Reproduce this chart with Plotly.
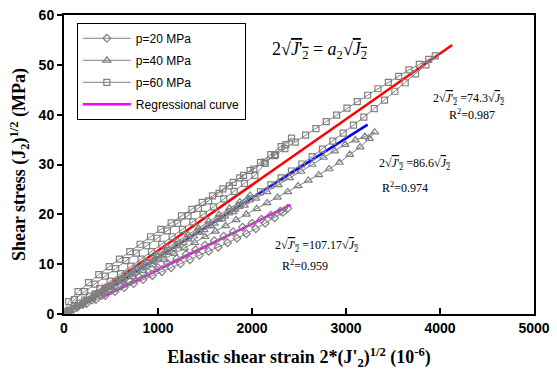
import plotly.graph_objects as go

# ---------------- data ----------------
# p = 20 MPa : loading branch then unloading branch
p20_load_strain = [0, 100, 200, 300, 400, 500, 600, 700, 800, 900, 1000, 1100, 1200, 1300, 1400,
                   1500, 1600, 1700, 1800, 1900, 2000, 2100, 2200, 2300, 2380]
p20_load_stress = [0, 1.0, 1.9, 2.8, 3.7, 4.7, 5.6, 6.5, 7.4, 8.4, 9.3, 10.2, 11.1, 12.0, 12.9,
                   13.8, 14.7, 15.6, 16.5, 17.4, 18.2, 19.0, 19.8, 20.6, 21.2]
p20_unload_strain = [2330, 2240, 2140, 2040, 1940, 1840, 1740, 1640, 1540, 1440, 1340, 1240, 1140,
                     1040, 940, 840, 740, 640, 540, 440, 340, 240, 140, 50]
p20_unload_stress = [20.4, 19.3, 18.2, 17.1, 16.1, 15.2, 14.3, 13.4, 12.6, 11.8, 10.9, 10.1, 9.3,
                     8.5, 7.7, 6.9, 6.1, 5.3, 4.5, 3.7, 2.9, 2.1, 1.3, 0.5]

# p = 40 MPa : outer cycle and inner cycle
p40_load_strain = [0, 120, 240, 360, 480, 600, 720, 840, 960, 1080, 1200, 1320, 1440, 1560, 1680,
                   1800, 1920, 2040, 2160, 2280, 2400, 2520, 2640, 2760, 2880, 2990, 3100, 3200, 3305]
p40_load_stress = [0, 1.4, 2.7, 4.1, 5.5, 6.8, 8.2, 9.5, 10.9, 12.3, 13.6, 15.0, 16.4, 17.7, 19.1,
                   20.5, 21.8, 23.2, 24.5, 25.9, 27.3, 28.6, 30.0, 31.4, 32.7, 34.0, 34.9, 35.6, 36.5]
p40_unload_strain = [3250, 3150, 3040, 2930, 2820, 2710, 2600, 2490, 2380, 2270, 2160, 2050, 1940,
                     1830, 1720, 1610, 1500, 1390, 1280, 1170, 1060, 950, 840, 730, 620, 510, 400,
                     290, 180, 70]
p40_unload_stress = [35.2, 33.5, 32.0, 30.4, 29.1, 27.9, 26.8, 25.7, 24.5, 23.4, 22.3, 21.1, 20.0,
                     18.9, 17.7, 16.6, 15.5, 14.3, 13.2, 12.1, 10.9, 9.8, 8.7, 7.5, 6.4, 5.3, 4.1,
                     3.0, 1.9, 0.7]
p40_inner_strain = [0, 110, 220, 330, 440, 550, 660, 770, 880, 990, 1100, 1210, 1320, 1430, 1540,
                    1650, 1760, 1870, 1980, 1930, 1820, 1710, 1600, 1490, 1380, 1270, 1160, 1050,
                    940, 830, 720, 610, 500, 390, 280, 170, 60]
p40_inner_stress = [0, 1.3, 2.7, 4.0, 5.3, 6.6, 8.0, 9.3, 10.6, 11.9, 13.3, 14.6, 15.9, 17.2, 18.6,
                    19.9, 21.2, 22.5, 23.8, 22.6, 21.0, 19.6, 18.2, 16.9, 15.6, 14.3, 13.0, 11.8,
                    10.5, 9.3, 8.0, 6.8, 5.5, 4.3, 3.0, 1.8, 0.6]

# p = 60 MPa : outer cycle and inner cycle
p60_load_strain = [0, 50, 150, 260, 370, 480, 590, 700, 810, 920, 1030, 1140, 1250, 1360, 1470,
                   1580, 1690, 1800, 1910, 2020, 2130, 2240, 2350, 2460, 2570, 2680, 2790, 2900,
                   3010, 3120, 3230, 3340, 3450, 3560, 3670, 3780, 3880, 3950]
p60_load_stress = [0, 2.5, 4.5, 6.3, 7.9, 9.5, 11.0, 12.5, 14.0, 15.5, 17.0, 18.3, 19.7, 21.0, 22.4,
                   23.7, 25.1, 26.4, 27.8, 29.1, 30.5, 31.8, 33.2, 34.5, 35.9, 37.2, 38.6, 39.9,
                   41.3, 42.6, 43.9, 45.2, 46.5, 47.7, 49.0, 50.1, 51.1, 51.8]
p60_unload_strain = [3850, 3740, 3630, 3520, 3410, 3300, 3190, 3080, 2970, 2860, 2750, 2640, 2530,
                     2420, 2310, 2200, 2090, 1980, 1870, 1760, 1650, 1540, 1430, 1320, 1210, 1100,
                     990, 880, 770, 660, 550, 440, 330, 220, 110, 30]
p60_unload_stress = [50.0, 48.2, 46.4, 44.7, 42.9, 41.2, 39.5, 37.9, 36.3, 34.7, 33.1, 31.6, 30.1,
                     28.7, 27.3, 25.9, 24.5, 23.1, 21.8, 20.5, 19.2, 17.9, 16.6, 15.3, 14.0, 12.7,
                     11.4, 10.2, 8.9, 7.7, 6.4, 5.2, 4.0, 2.8, 1.6, 0.5]
p60_inner_strain = [0, 110, 220, 330, 440, 550, 660, 770, 880, 990, 1100, 1210, 1320, 1430, 1540,
                    1650, 1760, 1870, 1980, 2090, 2200, 2310, 2420, 2360, 2250, 2140, 2030, 1920,
                    1810, 1700, 1590, 1480, 1370, 1260, 1150, 1040, 930, 820, 710, 600, 490, 380,
                    270, 160, 50]
p60_inner_stress = [0, 2.9, 4.5, 6.0, 7.6, 9.1, 10.7, 12.2, 13.7, 15.2, 16.7, 18.2, 19.7, 21.2, 22.7,
                    24.2, 25.7, 27.3, 28.8, 30.4, 32.0, 33.6, 35.3, 34.0, 32.0, 30.2, 27.8, 26.2,
                    24.6, 23.1, 21.5, 20.0, 18.5, 17.0, 15.5, 14.0, 12.5, 11.0, 9.6, 8.1, 6.6, 5.1,
                    3.6, 2.2, 0.7]

# regression lines (start / end points)
fit60_strain = [150, 4130]
fit60_stress = [1.5, 54.0]
fit40_strain = [150, 3230]
fit40_stress = [1.2, 38.0]
fit20_strain = [400, 2410]
fit20_stress = [3.3, 21.9]

x_ticks = [0, 1000, 2000, 3000, 4000, 5000]
y_ticks = [0, 10, 20, 30, 40, 50, 60]

# ---------------- figure ----------------
GRAY = "#808080"
fig = go.Figure()

# regression lines first (under markers)
fig.add_trace(go.Scatter(x=fit60_strain, y=fit60_stress, mode="lines",
                         line=dict(color="#ff0000", width=2.5), showlegend=False))
fig.add_trace(go.Scatter(x=fit40_strain, y=fit40_stress, mode="lines",
                         line=dict(color="#0000ff", width=2.5), showlegend=False))
fig.add_trace(go.Scatter(x=fit20_strain, y=fit20_stress, mode="lines", name="Regressional curve",
                         legendgroup="g4", line=dict(color="#ff00ff", width=2.5), legendrank=4))

def series(name, xs, ys, symbol, rank, size):
    fig.add_trace(go.Scatter(
        x=xs, y=ys, mode="lines+markers", name=name, legendrank=rank, legendgroup="g%d" % rank,
        line=dict(color=GRAY, width=1),
        marker=dict(symbol=symbol, size=size, color=GRAY, line=dict(color=GRAY, width=1.2)),
    ))

series("p=20 MPa", p20_load_strain + p20_unload_strain, p20_load_stress + p20_unload_stress,
       "diamond-open", 1, 6)
series("p=40 MPa", p40_load_strain + p40_unload_strain + p40_inner_strain,
       p40_load_stress + p40_unload_stress + p40_inner_stress, "triangle-up-open", 2, 7)
series("p=60 MPa", p60_load_strain + p60_unload_strain + p60_inner_strain,
       p60_load_stress + p60_unload_stress + p60_inner_stress, "square-open", 3, 6)

OV = "<span style='text-decoration:overline'>"
def eq(coef):
    return ("2√" + OV + "<i>J</i>'<sub>2</sub></span> =" + coef + "√" + OV + "<i>J</i><sub>2</sub></span>")

TF = "Times New Roman, Liberation Serif, serif"
W, H = 557, 381
L, R, T, B = 64, 18, 7, 67
pw, ph = W - L - R, H - T - B

ann = [
    dict(x=322, y=43, text="2√" + OV + "<i>J</i>'<sub>2</sub></span> = <i>a</i><sub>2</sub>√" + OV
         + "<i>J</i><sub>2</sub></span>", size=18),
    dict(x=473, y=93, text=eq("74.3"), size=12),
    dict(x=476, y=109, text="R<sup>2</sup>=0.987", size=12),
    dict(x=418, y=160, text=eq("86.6"), size=12),
    dict(x=409, y=184, text="R<sup>2</sup>=0.974", size=12),
    dict(x=319, y=244, text=eq("107.17"), size=12),
    dict(x=308, y=264, text="R<sup>2</sup>=0.959", size=12),
]
for a in ann:
    fig.add_annotation(x=(a["x"] - L) / pw, y=1 - (a["y"] - T) / ph, xref="paper", yref="paper",
                       text=a["text"], showarrow=False, xanchor="center", yanchor="middle",
                       font=dict(family=TF, size=a["size"], color="black"))

TICKF = dict(family="Arial, Liberation Sans, sans-serif", size=14, color="black", weight="bold")
fig.update_layout(
    width=W, height=H,
    margin=dict(l=L, r=R, t=T, b=B),
    paper_bgcolor="white", plot_bgcolor="white",
    showlegend=True,
    legend=dict(x=(77 - L) / pw, y=1 - (15 - T) / ph, xanchor="left", yanchor="top",
                bordercolor="black", borderwidth=1, bgcolor="white",
                font=dict(family="Liberation Sans, Arial, sans-serif", size=12, color="black"),
                itemwidth=48, tracegroupgap=3),
    xaxis=dict(range=[0, 5000], tickvals=x_ticks, ticktext=["<b>%d</b>" % v for v in x_ticks],
               ticks="inside", ticklen=6, tickwidth=1.5,
               tickcolor="black", showline=True, linecolor="black", linewidth=2, mirror=True,
               showgrid=False, zeroline=False, tickfont=TICKF,
               title=dict(text="<b>Elastic shear strain 2*(J'<sub>2</sub>)<sup>1/2</sup> (10<sup>-6</sup>)</b>",
                          font=dict(family=TF, size=18, color="black"), standoff=16)),
    yaxis=dict(range=[0, 60], tickvals=y_ticks, ticktext=["<b>%d</b>" % v for v in y_ticks],
               ticks="outside", ticklen=5, tickwidth=1.5,
               tickcolor="black", showline=True, linecolor="black", linewidth=2, mirror=True,
               showgrid=False, zeroline=False, tickfont=TICKF,
               title=dict(text="<b>Shear stress (J<sub>2</sub>)<sup>1/2</sup> (MPa)</b>",
                          font=dict(family=TF, size=18, color="black"), standoff=8)),
)

fig.write_html("out.html")
